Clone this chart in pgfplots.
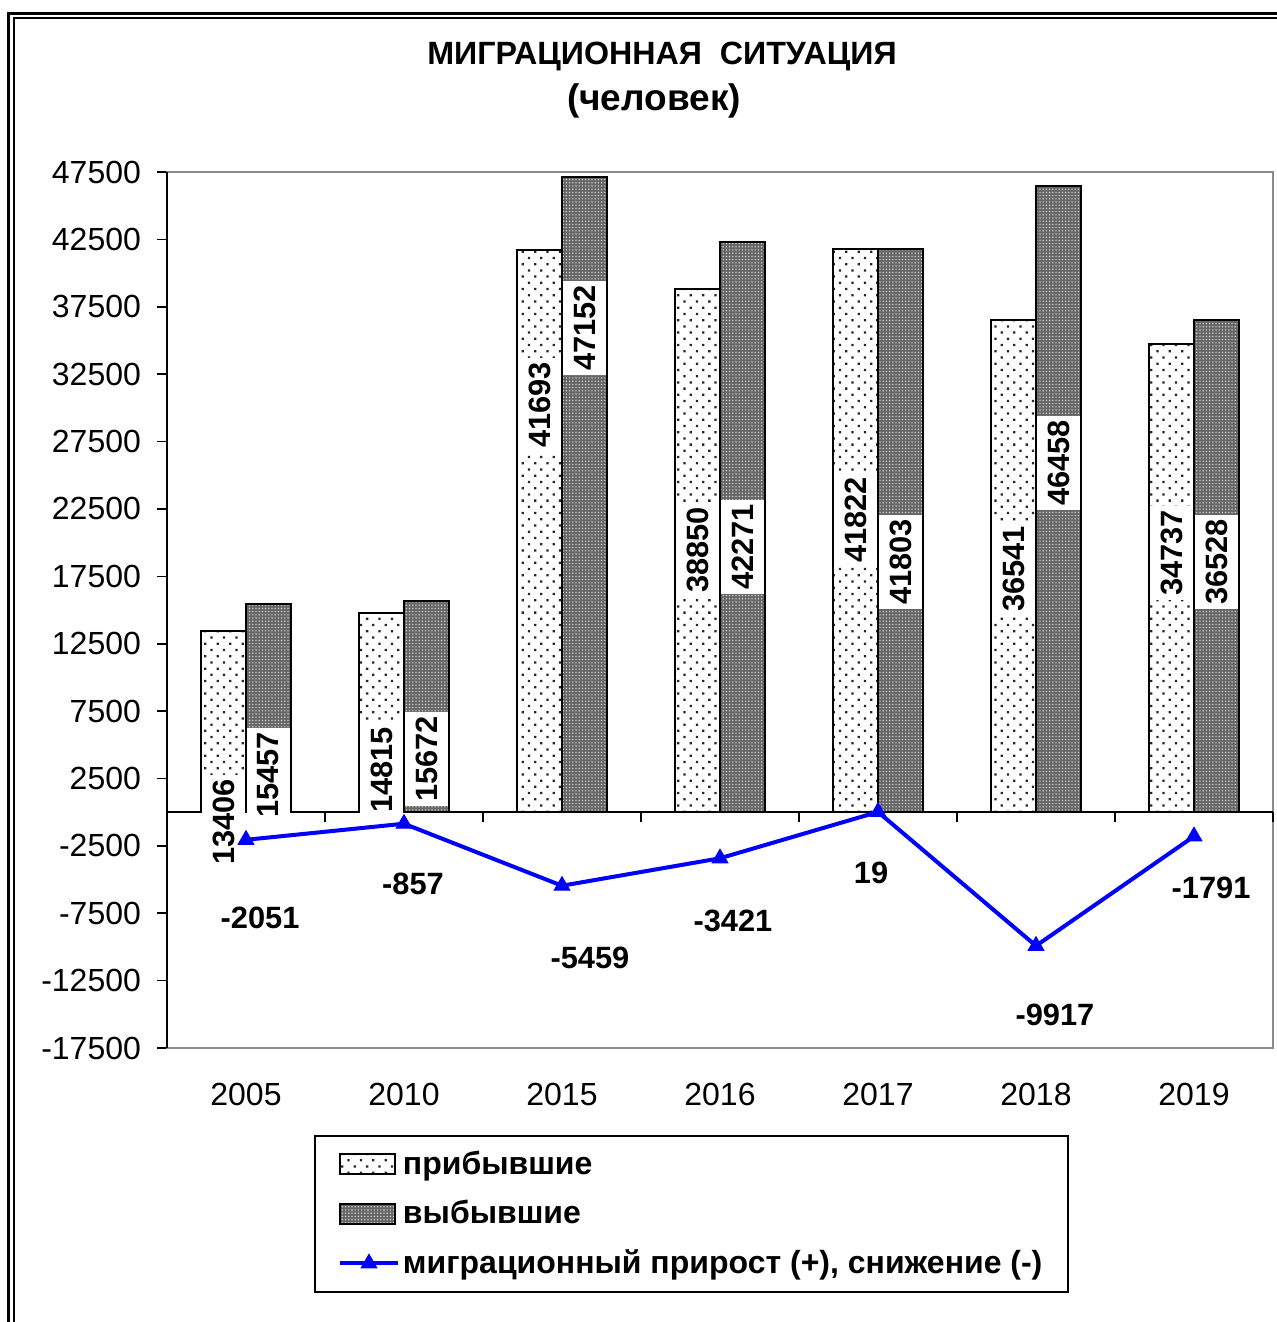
\documentclass[border=0pt]{standalone}
\usepackage{fontspec}
\setmainfont{Liberation Sans}
\usepackage{pgfplots}
\pgfplotsset{compat=1.18}
\usetikzlibrary{patterns.meta}

\newcommand{\lbl}{\fontsize{15.4}{18}\selectfont\bfseries}

\tikzset{
  arr/.style={fill=white, postaction={pattern={Dots[distance=4.4pt, radius=0.8pt, angle=45]}, pattern color=black!85}},
  dep/.style={fill=black!60, postaction={pattern={Dots[distance=1.6pt, radius=0.38pt]}, pattern color=white!85!black}},
  vl/.style={rotate=90, fill=white, inner xsep=2pt, inner ysep=5.5pt, font=\lbl},
  nl/.style={font=\lbl}
}
\pgfplotsset{
  barleg/.style={legend image code/.code={\draw[##1, line width=0.8pt] (0pt,-5pt) rectangle (27.5pt,5pt);}},
  lineleg/.style={legend image code/.code={\draw[mark repeat=2, mark phase=2, ##1] plot coordinates {(0pt,0pt) (14.5pt,0pt) (29pt,0pt)};}}
}

\begin{document}
\begin{tikzpicture}
\useasboundingbox (0,0) rectangle (638pt,-661pt);
\draw[line width=1.5pt] (4.25pt,-6.75pt) rectangle (700pt,-700pt);
\draw[line width=1pt] (6.75pt,-9.25pt) rectangle (700pt,-700pt);

\node[font=\fontsize{16.1}{19}\selectfont\bfseries] at (331pt,-28pt) {МИГРАЦИОННАЯ\ \ СИТУАЦИЯ};
\node[font=\fontsize{18.5}{22}\selectfont\bfseries] at (327pt,-50.5pt) {(человек)};

\begin{axis}[
  at={(83.5pt,-524pt)}, anchor=south west,
  scale only axis, width=553pt, height=438pt,
  xmin=-0.5, xmax=6.5, ymin=-17500, ymax=47500,
  ytick={-17500,-12500,...,47500},
  xtick={0,...,6}, xticklabels={2005,2010,2015,2016,2017,2018,2019},
  x tick style={draw=none},
  ytick pos=left, tick align=outside, major tick length=5pt,
  y tick style={black, line width=0.8pt},
  axis line style={black!45, line width=1pt},
  /pgf/number format/assume math mode=true,
  /pgf/number format/1000 sep={},
  scaled y ticks=false,
  tick label style={font=\fontsize{16}{19}\selectfont},
  yticklabel style={xshift=-4.5pt},
  xticklabel style={yshift=-9pt},
  legend style={at={(axis description cs:0.1329,-0.0993)}, anchor=north west,
    draw=black, line width=1pt, font=\fontsize{16}{19}\selectfont\bfseries, row sep=7.5pt,
    inner xsep=11.5pt, inner ysep=5.5pt, nodes={inner xsep=1.5pt}},
  legend cell align=left,
  clip=false,
]
\addplot[ybar, bar width=22.5pt, bar shift=-11.25pt, draw=black, line width=1pt, arr, barleg]
  coordinates {(0,13406) (1,14815) (2,41693) (3,38850) (4,41822) (5,36541) (6,34737)};
\addlegendentry{прибывшие}
\addplot[ybar, bar width=22.5pt, bar shift=11.25pt, draw=black, line width=1pt, dep, barleg]
  coordinates {(0,15457) (1,15672) (2,47152) (3,42271) (4,41803) (5,46458) (6,36528)};
\addlegendentry{выбывшие}

\draw[black, line width=1pt] (axis cs:-0.5,0) -- (axis cs:6.5,0);
\draw[black, line width=0.8pt] (axis cs:0.5,0) -- ++(0pt,-5pt);
\draw[black, line width=0.8pt] (axis cs:1.5,0) -- ++(0pt,-5pt);
\draw[black, line width=0.8pt] (axis cs:2.5,0) -- ++(0pt,-5pt);
\draw[black, line width=0.8pt] (axis cs:3.5,0) -- ++(0pt,-5pt);
\draw[black, line width=0.8pt] (axis cs:4.5,0) -- ++(0pt,-5pt);
\draw[black, line width=0.8pt] (axis cs:5.5,0) -- ++(0pt,-5pt);
\draw[black, line width=0.8pt] (axis cs:6.5,0) -- ++(0pt,-5pt);
\draw[black, line width=1pt] (rel axis cs:0,0) -- (rel axis cs:0,1);

\addplot[color=blue, line width=2pt, mark=triangle*, mark size=4.5pt, mark options={solid, line width=0.5pt}, lineleg]
  coordinates {(0,-2051) (1,-857) (2,-5459) (3,-3421) (4,19) (5,-9917) (6,-1791)};
\addlegendentry{миграционный прирост (+), снижение (-)}

% value labels of bars
\node[vl] at (axis cs:-0.1424,-730) {13406};
\node[vl] at (axis cs:0.1424,2760) {15457};
\node[vl] at (axis cs:0.8576,3130) {14815};
\node[vl] at (axis cs:1.1424,3950) {15672};
\node[vl] at (axis cs:1.8576,30210) {41693};
\node[vl] at (axis cs:2.1424,35920) {47152};
\node[vl] at (axis cs:2.8576,19450) {38850};
\node[vl] at (axis cs:3.1424,19680) {42271};
\node[vl] at (axis cs:3.8576,21680) {41822};
\node[vl] at (axis cs:4.1424,18570) {41803};
\node[vl] at (axis cs:4.8576,18050) {36541};
\node[vl] at (axis cs:5.1424,25910) {46458};
\node[vl] at (axis cs:5.8576,19240) {34737};
\node[vl] at (axis cs:6.1424,18570) {36528};

% value labels of the line
\node[nl] at (axis cs:0.089,-7850) {-2051};
\node[nl] at (axis cs:1.057,-5320) {-857};
\node[nl] at (axis cs:2.177,-10820) {-5459};
\node[nl] at (axis cs:3.082,-8070) {-3421};
\node[nl] at (axis cs:3.956,-4510) {19};
\node[nl] at (axis cs:5.120,-15050) {-9917};
\node[nl] at (axis cs:6.108,-5620) {-1791};
\end{axis}
\end{tikzpicture}
\end{document}
